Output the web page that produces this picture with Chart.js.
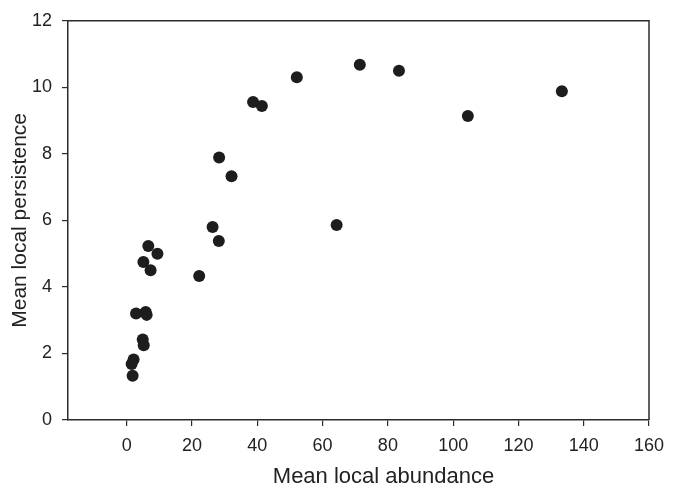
<!DOCTYPE html>
<html>
<head>
<meta charset="utf-8">
<script src="https://cdn.jsdelivr.net/npm/chart.js@4"></script>
<style>
    body { margin: 0; background: #fff; }
    #wrap { width: 680px; height: 491px; position: relative; }
</style>
</head>
<body>
<div id="wrap"><canvas id="scatterChart"></canvas></div>
<script>
// values
const abundance = [133.3, 104.5, 83.4, 71.4, 64.3, 52.1, 41.4, 38.7, 32.1, 28.3, 26.3, 28.2, 22.2,
    9.4, 6.6, 7.3, 5.1, 2.85, 5.8, 6.1, 4.9, 5.2, 2.1, 1.5, 1.8];
const persistence = [9.88, 9.14, 10.5, 10.68, 5.86, 10.3, 9.44, 9.56, 7.33, 7.89, 5.8, 5.38, 4.33,
    5.0, 5.23, 4.5, 4.75, 3.2, 3.25, 3.16, 2.42, 2.25, 1.82, 1.68, 1.33];
const xTicks = [0, 20, 40, 60, 80, 100, 120, 140, 160];
const yTicks = [0, 2, 4, 6, 8, 10, 12];
const xTitle = 'Mean local abundance';
const yTitle = 'Mean local persistence';

const axisColor = '#2b2b2b';
const fontFamily = 'Liberation Sans, Arial, sans-serif';
const tickFont = { family: fontFamily, size: 18 };

// top and right edges of the frame, plus the x title (sits a bit right of centre in the original)
const framePlugin = {
    id: 'frame',
    afterDraw(chart) {
        const a = chart.chartArea;
        const ctx = chart.ctx;
        ctx.save();
        ctx.strokeStyle = axisColor;
        ctx.lineWidth = 1.5;
        ctx.beginPath();
        ctx.moveTo(a.left, a.top);
        ctx.lineTo(a.right, a.top);
        ctx.lineTo(a.right, a.bottom);
        ctx.stroke();

        ctx.fillStyle = '#222';
        ctx.font = '22px ' + fontFamily;
        ctx.textAlign = 'center';
        ctx.textBaseline = 'middle';
        ctx.fillText(xTitle, (a.left + a.right) / 2 + 25, a.bottom + 57);
        ctx.restore();
    }
};

document.addEventListener('DOMContentLoaded', function() {
    const ctx = document.getElementById('scatterChart').getContext('2d');
    new Chart(ctx, {
        type: 'scatter',
        data: {
            datasets: [{
                data: abundance.map((x, i) => ({ x: x, y: persistence[i] })),
                backgroundColor: '#1d1d1d',
                borderColor: '#1d1d1d',
                pointRadius: 6,
                pointHoverRadius: 6,
                borderWidth: 0
            }]
        },
        options: {
            responsive: true,
            maintainAspectRatio: false,
            animation: false,
            layout: { padding: { top: 14, right: 31, bottom: 0, left: 0 } },
            plugins: {
                legend: { display: false },
                tooltip: { enabled: false }
            },
            scales: {
                x: {
                    type: 'linear',
                    min: -18,
                    max: 160,
                    afterBuildTicks: function(scale) {
                        scale.ticks = xTicks.map(v => ({ value: v }));
                    },
                    afterFit: function(scale) { scale.height = 71; },
                    ticks: { color: '#222', font: tickFont, padding: 9, maxRotation: 0 },
                    grid: { drawOnChartArea: false, tickLength: 6, color: axisColor, lineWidth: 1.2 },
                    border: { color: axisColor, width: 1.5 },
                    title: { display: false }
                },
                y: {
                    type: 'linear',
                    min: 0,
                    max: 12,
                    afterBuildTicks: function(scale) {
                        scale.ticks = yTicks.map(v => ({ value: v }));
                    },
                    afterFit: function(scale) { scale.width = 68; },
                    ticks: { color: '#222', font: tickFont, padding: 10 },
                    grid: { drawOnChartArea: false, tickLength: 6, color: axisColor, lineWidth: 1.2 },
                    border: { color: axisColor, width: 1.5 },
                    title: {
                        display: true, text: yTitle, color: '#222',
                        font: { family: fontFamily, size: 21 },
                        padding: { top: 8, bottom: 0 }
                    }
                }
            }
        },
        plugins: [framePlugin]
    });
});
</script>
</body>
</html>
